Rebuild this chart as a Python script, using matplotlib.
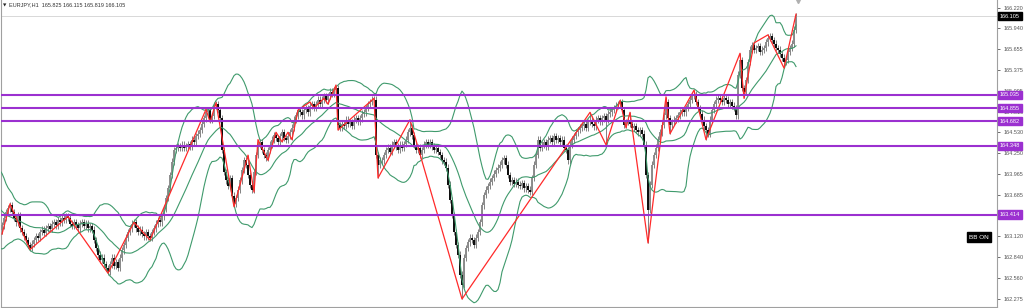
import numpy as np
import pandas as pd
import matplotlib
matplotlib.use("Agg")
import matplotlib.pyplot as plt

plt.rcParams['font.family'] = ['Liberation Sans', 'DejaVu Sans']

# hourly closes (EURJPY H1), oldest first
pre_close = [163.81, 163.88, 163.91, 163.81, 163.75, 163.68, 163.72, 163.61, 163.54, 163.48,
             163.41, 163.45, 163.34, 163.27, 163.21, 163.14, 163.23, 163.18, 163.10, 163.21]

close = [
    163.27, 163.37, 163.45, 163.50, 163.54,
    163.45, 163.37, 163.31, 163.41, 163.23, 163.18, 163.12, 163.07, 163.00, 162.96,
    163.02, 163.07, 163.12, 163.10, 163.18, 163.21, 163.17, 163.23, 163.26, 163.22,
    163.29, 163.31, 163.27, 163.34, 163.31, 163.37, 163.34, 163.39,
    163.37, 163.29, 163.26, 163.31, 163.27, 163.23, 163.29, 163.31, 163.26, 163.29,
    163.23, 163.26, 163.21,
    163.07, 162.96, 162.87, 162.80, 162.83, 162.74, 162.69, 162.64,
    162.74, 162.83, 162.72, 162.77, 162.69, 162.83, 162.93,
    163.00, 163.10, 163.18, 163.23, 163.29, 163.31,
    163.23, 163.18, 163.21, 163.15, 163.12, 163.18, 163.12, 163.10,
    163.18, 163.23, 163.29, 163.34, 163.31, 163.39,
    163.50, 163.64, 163.77, 163.95, 164.13, 164.29, 164.32,
    164.34, 164.32, 164.36, 164.32, 164.34, 164.37, 164.34, 164.43, 164.40, 164.48,
    164.51, 164.56,
    164.64, 164.72, 164.80, 164.83, 164.70, 164.75, 164.89, 164.91, 164.83, 164.72,
    164.29, 163.99, 163.88, 163.80, 163.91, 163.67, 163.56,
    163.64, 163.75, 163.88, 164.02, 164.15, 164.09, 163.95, 163.82, 163.75, 163.99,
    164.22, 164.36,
    164.40, 164.29, 164.22, 164.18, 164.29, 164.36, 164.43, 164.49, 164.45, 164.40,
    164.48, 164.53, 164.45, 164.43, 164.48, 164.53, 164.59, 164.70, 164.76, 164.83,
    164.80,
    164.76, 164.83, 164.86, 164.80, 164.89, 164.91, 164.86, 164.91, 164.97, 164.91,
    164.97, 165.02, 164.97, 165.02, 165.08, 165.05, 165.10, 165.13,
    164.63, 164.59, 164.64, 164.62, 164.70, 164.64, 164.67, 164.62, 164.70, 164.72,
    164.67, 164.72, 164.78, 164.80, 164.86, 164.91, 164.94, 164.97,
    164.97, 164.22, 164.09, 164.15,
    164.15, 164.22, 164.29, 164.32, 164.26, 164.36, 164.40, 164.34, 164.29, 164.36,
    164.32, 164.37, 164.43, 164.53, 164.59,
    164.49, 164.36, 164.29, 164.32, 164.22, 164.29, 164.36, 164.40, 164.36, 164.40,
    164.34, 164.29, 164.32, 164.26, 164.22, 164.15, 164.13, 164.05,
    163.82, 163.61, 163.41, 163.18, 163.00, 162.87, 162.60, 162.46,
    162.83, 162.96, 163.04, 163.10, 163.07, 163.00, 163.10, 163.18, 163.31,
    163.54, 163.68, 163.75, 163.80, 163.86, 163.91, 163.97, 164.02, 164.05, 164.09,
    164.15, 164.18, 164.09, 163.95,
    163.86, 163.88, 163.83, 163.86, 163.82, 163.80, 163.84, 163.77, 163.80, 163.75,
    163.72,
    163.91, 164.09, 164.22, 164.43, 164.32, 164.36, 164.40, 164.34, 164.43, 164.45,
    164.40, 164.48, 164.43, 164.45, 164.40, 164.43, 164.32,
    164.29, 164.15, 164.36, 164.43, 164.48, 164.53, 164.56, 164.59,
    164.61, 164.64, 164.59, 164.67, 164.70, 164.64, 164.61, 164.70, 164.72, 164.67,
    164.72, 164.75, 164.70, 164.78, 164.80, 164.83, 164.86, 164.89, 164.91,
    164.94, 164.83, 164.63, 164.67, 164.70, 164.64, 164.59, 164.61, 164.56, 164.53,
    164.56, 164.51, 164.36,
    163.95, 163.48, 163.82, 164.09, 164.22, 164.32, 164.43, 164.53, 164.63, 164.76,
    164.94,
    164.72, 164.63, 164.67, 164.70, 164.72, 164.76, 164.80, 164.83, 164.80, 164.86,
    164.91, 164.97, 165.02, 165.05,
    164.94, 164.86, 164.78, 164.70, 164.61, 164.56, 164.51, 164.70, 164.83, 164.91,
    164.97, 165.00, 164.97, 164.94, 165.00, 164.97, 164.91, 164.94, 164.89, 164.86,
    164.76,
    165.31, 165.51, 165.13, 165.08, 165.24, 165.48, 165.65, 165.71, 165.65, 165.67,
    165.70, 165.62, 165.65, 165.67, 165.75, 165.81, 165.83, 165.78, 165.73, 165.67,
    165.65, 165.59, 165.54, 165.48, 165.51, 165.62, 165.67, 165.73, 165.92, 166.105,
]

# zigzag swing points (bar number, price)
zz_bar = [0, 4, 14, 33, 53, 66, 74, 102, 104, 107, 116, 123, 126, 128, 133, 137, 140,
          143, 145, 148, 154, 156, 161, 163, 167, 168, 186, 188, 204, 230, 294, 302,
          309, 312, 314, 323, 332, 334, 346, 352, 369, 371, 376, 383, 391, 397]
zz_price = [163.15, 163.56, 162.94, 163.39, 162.62, 163.31, 163.07, 164.84, 164.67,
            164.93, 163.52, 164.22, 163.72, 164.43, 164.15, 164.53, 164.40, 164.53,
            164.43, 164.83, 164.94, 164.86, 164.99, 164.91, 165.17, 164.56, 164.99,
            163.91, 164.70, 162.27, 164.80, 164.36, 164.96, 164.59, 164.80, 163.03,
            165.01, 164.51, 165.10, 164.43, 165.60, 164.99, 165.74, 165.85, 165.40,
            166.13]

levels = [165.035, 164.855, 164.682, 164.348, 163.414]
tick_vals = [166.220, 165.940, 165.655, 165.375, 165.095, 164.810, 164.530, 164.250,
             163.965, 163.685, 163.405, 163.120, 162.840, 162.560, 162.275]
last_price = 166.105
header = "EURJPY,H1  165.825 166.115 165.819 166.105"

# build candles
allc = np.array(pre_close + close)
n_pre = len(pre_close)
opens = np.concatenate([[allc[0]], allc[:-1]])
wick = 0.045
highs = np.maximum(opens, allc) + wick
lows = np.minimum(opens, allc) - wick
for k, (b, p) in enumerate(zip(zz_bar, zz_price)):
    j = b + n_pre
    nb = zz_price[k - 1] if k > 0 else zz_price[k + 1]
    if p > nb:
        highs[j] = max(highs[j], p)
    else:
        lows[j] = min(lows[j], p)

xs = np.arange(len(allc)) - n_pre

s = pd.Series(allc)
mid = s.rolling(20).mean()
sd = s.rolling(20).std(ddof=0)
upper = mid + 2 * sd
lower = mid - 2 * sd

fig = plt.figure(figsize=(10.24, 3.08), dpi=100)
ax = fig.add_axes([1 / 1024, 1 / 308, 996 / 1024, 307 / 308])

up = allc >= opens
ax.vlines(xs, lows, highs, color='#6e6e6e', lw=0.6, zorder=2)
ax.vlines(xs[up], opens[up], allc[up], color='#8c8c8c', lw=1.4, zorder=3)
ax.vlines(xs[~up], opens[~up], allc[~up], color='#0a0a0a', lw=1.4, zorder=3)

bb_col = '#3f9a6c'
ax.plot(xs, upper, color=bb_col, lw=0.8, zorder=4)
ax.plot(xs, mid, color=bb_col, lw=0.8, zorder=4)
ax.plot(xs, lower, color=bb_col, lw=0.8, zorder=4)

ax.plot(zz_bar, zz_price, color='#ff2a2a', lw=0.9, zorder=5)

purple = '#9b30d0'
for lv in levels:
    ax.axhline(lv, color=purple, lw=1.5, zorder=6)
    ax.annotate(f"{lv:.3f}", xy=(1.0, lv), xycoords=('axes fraction', 'data'),
                xytext=(2.2, 0), textcoords='offset points', va='center', ha='left',
                fontsize=4.0, color='white', annotation_clip=False, zorder=10,
                bbox=dict(boxstyle='square,pad=0.3', fc=purple, ec=purple))

ax.axhline(last_price, color='#d8d8d8', lw=0.7, zorder=1)
ax.annotate(f"{last_price:.3f}", xy=(1.0, last_price), xycoords=('axes fraction', 'data'),
            xytext=(2.2, 0), textcoords='offset points', va='center', ha='left',
            fontsize=4.0, color='white', annotation_clip=False, zorder=10,
            bbox=dict(boxstyle='square,pad=0.3', fc='black', ec='black'))

ax.text(488.5, 163.11, "BB ON", fontsize=4.6, color='white', ha='center', va='center',
        zorder=10, bbox=dict(boxstyle='square,pad=0.35', fc='black', ec='black'))

ax.text(0.002, 0.988, "\u25bc", transform=ax.transAxes, fontsize=3.2, color='#222222',
        va='top', ha='left', family='DejaVu Sans')
ax.text(0.008, 0.992, header, transform=ax.transAxes, fontsize=4.0, color='#333333',
        va='top', ha='left')
ax.plot([398], [166.31], marker='v', ms=3, color='#b0b0b0', clip_on=False)

ax.set_xlim(-0.5, 497.5)
ax.set_ylim(162.162, 166.322)
ax.set_xticks([])
ax.yaxis.tick_right()
ax.set_yticks(tick_vals)
# the 163.405 label sits under the 163.414 level tag
ax.set_yticklabels(["" if abs(v - 163.405) < 1e-6 else f"{v:.3f}" for v in tick_vals])
ax.tick_params(axis='y', direction='out', length=2.5, width=0.6, colors='#555555',
               labelsize=4.0, pad=2)
for side in ['left', 'right', 'bottom']:
    ax.spines[side].set_color('#a0a0a0')
    ax.spines[side].set_linewidth(0.8)
ax.spines['top'].set_visible(False)

fig.savefig('out.png', dpi=100)
